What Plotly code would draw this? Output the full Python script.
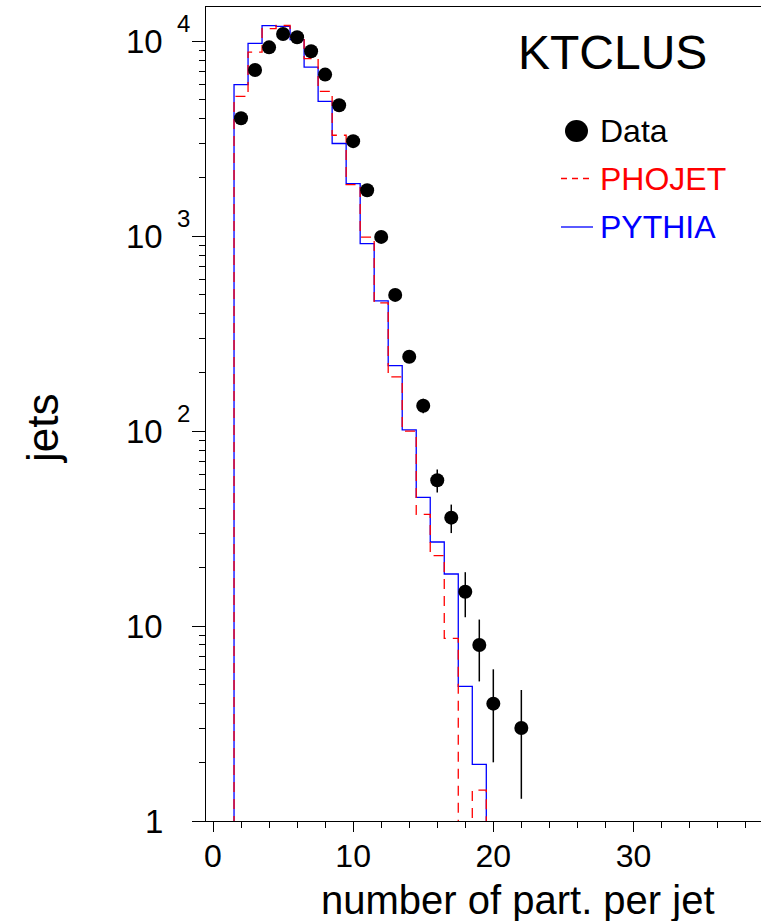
import math
import plotly.graph_objects as go

# ---------------- data ----------------
mc_centers = list(range(1, 21))
pythia = [0, 6000, 9750, 12030, 11940, 10200, 7380, 4920, 2990, 1860,
          916, 466, 217, 101.5, 45.7, 27.0, 18.5, 4.9, 1.95, 0]
phojet = [0, 5220, 8810, 11620, 12050, 10610, 8150, 5540, 3296, 1840,
          990, 455, 190, 100, 37.4, 23.0, 8.65, 0, 1.44, 0]

data_x = [2, 3, 4, 5, 6, 7, 8, 9, 10, 11, 12, 13, 14, 15, 16, 17, 18, 19, 20, 22]
data_y = [4030, 7130, 9310, 10900, 10490, 8890, 6750, 4700, 3075, 1722,
          992, 500, 241, 135, 56, 36, 15, 8, 4, 3]
data_err = [63, 84, 96, 104, 102, 94, 82, 69, 55, 41,
            31, 22, 15.5, 11.6, 7.5, 6.0, 3.9, 2.8, 2.0, 1.7]

x_ticks = [0, 10, 20, 30]
y_tick_vals = [1, 10, 100, 1000, 10000]
y_tick_base = ["1", "10", "10", "10", "10"]
y_tick_exp = ["", "", "2", "3", "4"]

legend_names = ["Data", "PHOJET", "PYTHIA"]
legend_colors = ["black", "red", "blue"]

# ---------------- layout geometry ----------------
W, H = 761, 921
ML, MR, MT, MB = 206, 0, 7, 100
PW, PH = W - ML - MR, H - MT - MB
FONT = "Liberation Sans, Arial, Helvetica, sans-serif"


def px(xp):
    return (xp - ML) / PW


def py(yp):
    return (H - MB - yp) / PH


FLOOR = 0.1  # off-scale value for empty bins on the log axis


def step_xy(centers, values):
    xs = [c - 0.5 for c in centers] + [centers[-1] + 0.5]
    ys = [v if v > 0 else FLOOR for v in values] + [FLOOR]
    return xs, ys


fig = go.Figure()

bx, by = step_xy(mc_centers, pythia)
fig.add_trace(go.Scatter(x=bx, y=by, mode="lines", line_shape="hv",
                         line=dict(color="blue", width=1.3),
                         name="PYTHIA", showlegend=False, hoverinfo="skip"))
rx, ry = step_xy(mc_centers, phojet)
fig.add_trace(go.Scatter(x=rx, y=ry, mode="lines", line_shape="hv",
                         line=dict(color="red", width=1.3, dash="10px,7px"),
                         name="PHOJET", showlegend=False, hoverinfo="skip"))
fig.add_trace(go.Scatter(x=data_x, y=data_y, mode="markers",
                         marker=dict(color="black", size=14, symbol="circle"),
                         error_y=dict(type="data", array=data_err, color="black",
                                      thickness=1.5, width=0),
                         name="Data", showlegend=False))

# minor ticks on log axis
minor_vals = [m * 10 ** d for d in range(0, 5) for m in range(2, 10)]

fig.update_layout(
    width=W, height=H,
    margin=dict(l=ML, r=MR, t=MT, b=MB),
    paper_bgcolor="white", plot_bgcolor="white",
    font=dict(family=FONT, color="black"),
    showlegend=False,
    xaxis=dict(range=[-0.5, 39.1], showgrid=False, zeroline=False,
               showline=True, linecolor="black", linewidth=1, mirror=True,
               tickmode="array", tickvals=x_ticks,
               ticks="outside", ticklen=10, tickwidth=1, tickcolor="black",
               ticklabelstandoff=-3,
               minor=dict(dtick=2, tick0=0, ticks="outside", ticklen=6,
                          tickcolor="black", tickwidth=1),
               tickfont=dict(size=32, family=FONT)),
    yaxis=dict(type="log", range=[0, 4.176], showgrid=False, zeroline=False,
               showline=True, linecolor="black", linewidth=1,
               tickmode="array", tickvals=y_tick_vals,
               ticks="outside", ticklen=13, tickwidth=1, tickcolor="black",
               minor=dict(tickmode="array", tickvals=minor_vals,
                          ticks="outside", ticklen=6, tickcolor="black",
                          tickwidth=1),
               showticklabels=False),
)

annotations = []
for v, b, e in zip(y_tick_vals, y_tick_base, y_tick_exp):
    lv = math.log10(v)
    annotations.append(dict(x=px(165), y=lv, xref="paper", yref="y",
                            text=b, showarrow=False, xanchor="right",
                            yanchor="middle",
                            font=dict(size=33, family=FONT, color="black")))
    if e:
        annotations.append(dict(x=px(175), y=lv, xref="paper", yref="y",
                                text=e, showarrow=False, xanchor="left",
                                yanchor="middle", yshift=18,
                                font=dict(size=24, family=FONT, color="black")))

# axis titles
annotations.append(dict(x=px(716), y=py(923), xref="paper", yref="paper",
                        text="number of part. per jet", showarrow=False,
                        xanchor="right", yanchor="bottom", borderpad=0,
                        font=dict(size=40, family=FONT, color="black")))
annotations.append(dict(x=px(42), y=py(429), xref="paper", yref="paper",
                        text="jets", showarrow=False, textangle=-90,
                        xanchor="center", yanchor="middle",
                        font=dict(size=44, family=FONT, color="black")))
# label
annotations.append(dict(x=px(612), y=py(52), xref="paper", yref="paper",
                        text="KTCLUS", showarrow=False,
                        xanchor="center", yanchor="middle",
                        font=dict(size=48, family=FONT, color="black")))

# legend (manual)
leg_y = [131, 179, 227]
for name, col, ly in zip(legend_names, legend_colors, leg_y):
    annotations.append(dict(x=px(598), y=py(ly), xref="paper", yref="paper",
                            text=name, showarrow=False, xanchor="left",
                            yanchor="middle",
                            font=dict(size=32, family=FONT, color=col)))
fig.update_layout(annotations=annotations)

shapes = [
    dict(type="circle", xref="paper", yref="paper",
         x0=px(565), x1=px(588), y0=py(142), y1=py(120),
         fillcolor="black", line=dict(color="black", width=0)),
    dict(type="line", xref="paper", yref="paper",
         x0=px(561), x1=px(593), y0=py(178.5), y1=py(178.5),
         line=dict(color="red", width=1.3, dash="6px,5px")),
    dict(type="line", xref="paper", yref="paper",
         x0=px(561), x1=px(593), y0=py(227), y1=py(227),
         line=dict(color="blue", width=1.3)),
]
fig.update_layout(shapes=shapes)

fig.write_html("out.html")
